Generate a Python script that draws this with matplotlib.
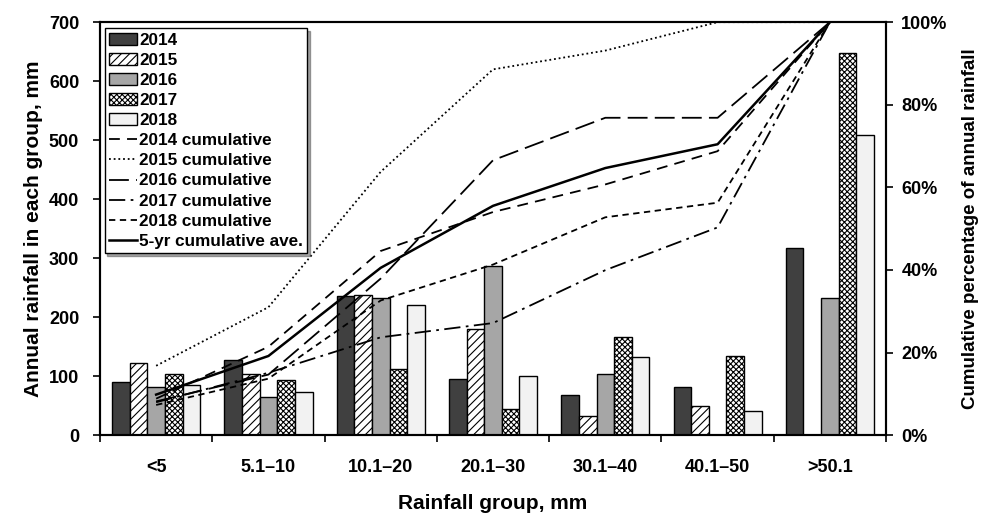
import matplotlib
matplotlib.use("Agg")
import matplotlib.pyplot as plt
import numpy as np
from matplotlib.ticker import PercentFormatter

plt.rcParams['font.family'] = ['Liberation Sans', 'DejaVu Sans']
plt.rcParams['font.weight'] = 'bold'
plt.rcParams['hatch.linewidth'] = 0.8

groups = ['<5', '5.1–10', '10.1–20', '20.1–30', '30.1–40', '40.1–50', '>50.1']
years = ['2014', '2015', '2016', '2017', '2018']

# annual rainfall in each group, mm
r2014 = [90, 128, 236, 96, 68, 82, 318]
r2015 = [122, 103, 238, 180, 33, 50, 0]
r2016 = [82, 65, 233, 287, 103, 0, 232]
r2017 = [104, 93, 112, 45, 167, 135, 648]
r2018 = [85, 74, 220, 101, 133, 41, 508]
rain = [r2014, r2015, r2016, r2017, r2018]

bar_face = ['#404040', 'white', '#a6a6a6', 'white', '#f2f2f2']
bar_hatch = [None, '////', None, 'xxxxxx', None]
line_dash = [(0, (6, 4)), (0, (1, 1.6)), (0, (11, 4)), (0, (9, 3, 1.5, 3)), (0, (3.5, 2.5))]

fig = plt.figure(figsize=(9.95, 5.15), dpi=100)
ax = fig.add_axes([0.1005, 0.155, 0.790, 0.802])
ax2 = ax.twinx()

x = np.arange(len(groups))
w = 0.157
handles = []
for i, yr in enumerate(years):
    b = ax.bar(x + (i - 2) * w, rain[i], w, color=bar_face[i], hatch=bar_hatch[i],
               edgecolor='black', linewidth=1.0, label=yr, zorder=2)
    handles.append(b)

cum = []
for i, yr in enumerate(years):
    c = np.cumsum(rain[i]) / np.sum(rain[i])
    cum.append(c)
    ln, = ax2.plot(x, c, color='black', linestyle=line_dash[i], linewidth=1.3,
                   label=yr + ' cumulative')
    handles.append(ln)
ave = np.mean(cum, axis=0)
ln, = ax2.plot(x, ave, color='black', linewidth=1.8, label='5-yr cumulative ave.')
handles.append(ln)

ax.set_xlim(-0.5, len(groups) - 0.5)
ax.set_ylim(0, 700)
ax.set_yticks(np.arange(0, 701, 100))
ax2.set_ylim(0, 1)
ax2.set_yticks(np.arange(0, 1.01, 0.2))
ax2.yaxis.set_major_formatter(PercentFormatter(1.0, decimals=0))

ax.set_xticks(np.arange(-0.5, len(groups), 1.0))
ax.set_xticklabels([])
ax.set_xticks(x, minor=True)
ax.set_xticklabels(groups, minor=True)
ax.tick_params(axis='x', which='minor', length=0, pad=17, labelsize=13)
ax.tick_params(axis='x', which='major', length=5, width=1.2, direction='out')
ax.tick_params(axis='y', length=5, width=1.2, labelsize=13, pad=10)
ax2.tick_params(axis='y', length=5, width=1.2, labelsize=13, pad=6)

for a in (ax, ax2):
    for s in a.spines.values():
        s.set_linewidth(1.5)

ax.set_xlabel('Rainfall group, mm', fontsize=15, fontweight='bold', labelpad=13)
ax.set_ylabel('Annual rainfall in each group, mm', fontsize=15, fontweight='bold', labelpad=4)
ax2.set_ylabel('Cumulative percentage of annual rainfall', fontsize=13.5, fontweight='bold', labelpad=10)

leg = ax2.legend(handles=handles, loc='upper left', bbox_to_anchor=(0.006, 0.985),
                 frameon=True, fancybox=False, shadow=True,
                 edgecolor='black', framealpha=1, labelspacing=0.3,
                 handlelength=1.65, handletextpad=0.1, borderpad=0.25,
                 borderaxespad=0.0, prop={'weight': 'bold', 'size': 12.3})
leg.get_frame().set_linewidth(1.0)

fig.savefig('out.png', dpi=100)
